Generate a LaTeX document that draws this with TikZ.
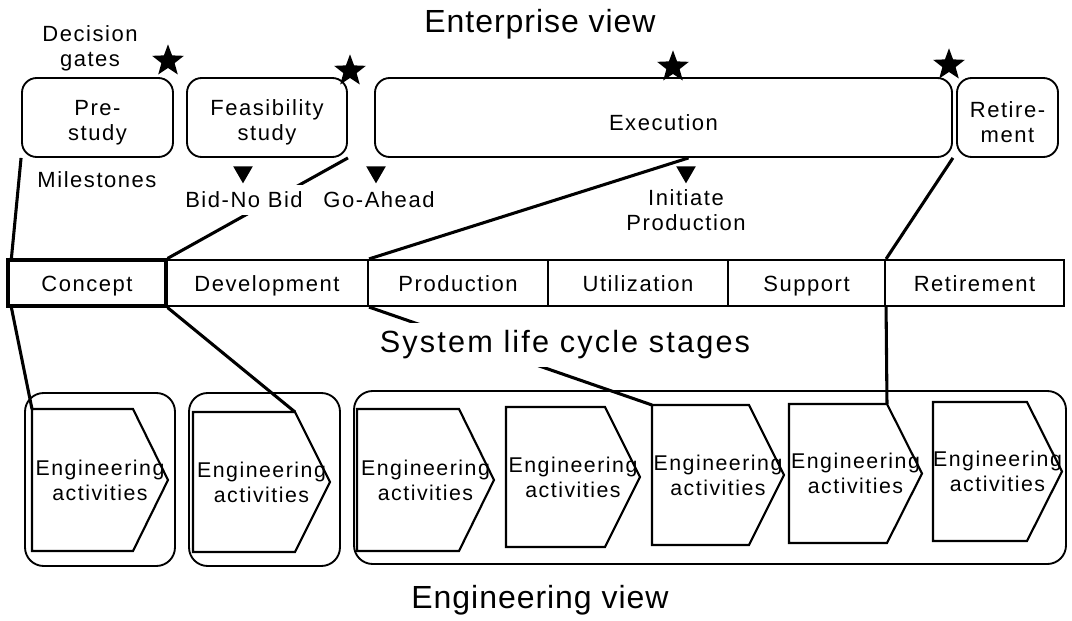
\documentclass[tikz,border=0pt]{standalone}
\usepackage{fontspec}
\setmainfont{Liberation Sans}
\newfontfamily\lsfont[LetterSpace=7]{Liberation Sans}
\newfontfamily\ttlfont[LetterSpace=3]{Liberation Sans}
\usetikzlibrary{shapes.geometric,calc}
\newcommand{\pent}[5]{%
  \draw[pentline] (#2,#4) -- ({#3-35},#4) -- (#3,{(#4+#5)/2}) -- ({#3-35},#5) -- (#2,#5) -- cycle;
  \coordinate (#1tl) at (#2,#4);
  \coordinate (#1tr) at ({#3-35},#4);
  \node[engtxt] (#1) at ({(#2+#3)/2},{(#4+#5)/2}) {Engineering\\activities};
}
\begin{document}
\begin{tikzpicture}[x=0.75pt,y=-0.75pt,
  lbl/.style={font=\lsfont\fontsize{16.5}{18.75}\selectfont, align=center, inner sep=1pt},
  engtxt/.style={font=\lsfont\fontsize{16}{18.75}\selectfont, align=center, inner sep=1pt},
  bigttl/.style={font=\ttlfont\fontsize{24}{28}\selectfont, inner sep=1pt},
  topbox/.style={draw, line width=1.4pt, rounded corners=11pt, minimum height=59.25pt},
  cell/.style={draw, line width=1.6pt, minimum height=34.5pt, lbl, inner sep=0pt, text height=14pt, text depth=1pt},
  grp/.style={draw, line width=1.4pt, rounded corners=14pt},
  pentline/.style={draw, line width=1.6pt, line join=miter},
  conn/.style={line width=2.3pt},
  gate/.style={star, star points=5, star point ratio=2.4, fill=black, inner sep=0pt, minimum size=25pt},
  mile/.style={regular polygon, regular polygon sides=3, shape border rotate=180, fill=black, inner sep=0pt, minimum size=17pt},
]
\useasboundingbox (0,0) rectangle (1072,621);

% titles
\node[bigttl] (ent) at (540,24) {Enterprise view};
\node[bigttl] (engv) at (540,600) {Engineering view};
\node[lbl] (dg) at (90,48) {Decision\\gates};

% top boxes
\node[topbox, minimum width=113.25pt] (pre) at (97.5,117.5) {};
\node[topbox, minimum width=120pt] (feas) at (267,117.5) {};
\node[topbox, minimum width=432.75pt] (exec) at (663.5,117.5) {};
\node[topbox, minimum width=75.75pt] (ret) at (1007.5,117.5) {};
\node[lbl] (preT) at ($(pre.center)+(0,5)$) {Pre-\\study};
\node[lbl] (feasT) at ($(feas.center)+(0,5)$) {Feasibility\\study};
\node[lbl] (execT) at ($(exec.center)+(0,5)$) {Execution};
\node[lbl] (retT) at ($(ret.center)+(0,5)$) {Retire-\\ment};

% stars
\node[gate] (s1) at (168,61) {};
\node[gate] (s2) at (350,71) {};
\node[gate] (s3) at (673,67) {};
\node[gate] (s4) at (949,65) {};

% milestones
\node[lbl] (ms) at (97,180) {Milestones};
\node[mile] (t1) at (243,172) {};
\node[mile] (t2) at (376,172) {};
\node[mile] (t3) at (686,172) {};

% bar cells
\node[cell, minimum width=151.5pt] (dev) at (267,283) {Development};
\node[cell, minimum width=135pt] (prod) at (458,283) {Production};
\node[cell, minimum width=135pt] (util) at (638,283) {Utilization};
\node[cell, minimum width=117.75pt] (supp) at (806.5,283) {Support};
\node[cell, minimum width=134.25pt] (retire) at (974.5,283) {Retirement};
\node[cell, minimum width=118.5pt, line width=2.4pt] (conc) at (87,283) {Concept};

% groups
\draw[grp] (25,393) rectangle (175,566);
\draw[grp] (189,393) rectangle (340,566);
\draw[grp] (354,391) rectangle (1066,564);

% pentagons
\pent{p1}{32}{168}{409}{551}
\pent{p2}{193}{330}{412}{552}
\pent{p3}{357}{494}{409}{551}
\pent{p4}{506}{640}{407}{547}
\pent{p5}{652}{784}{405}{545}
\pent{p6}{789}{922}{404}{543}
\pent{p7}{933}{1062}{402}{541}

% connectors
\coordinate (c1a) at ($(conc.north west)+(5,0)$);
\coordinate (c1b) at ($(conc.south west)+(5,0)$);
\draw[conn] (pre.south west) -- (c1a);
\draw[conn] (c1b) -- (p1tl);
\draw[conn] (feas.south east) -- (conc.north east);
\draw[conn] (conc.south east) -- (p2tr);
\coordinate (ex1) at ($(exec.south)+(25,0)$);
\draw[conn] (ex1) -- (dev.north east);
\draw[conn] (dev.south east) -- (p5tl);
\draw[conn] (exec.south east) -- (supp.north east);
\draw[conn] (supp.south east) -- (p6tr);

% labels over connectors
\node[lbl, fill=white, inner ysep=5pt] (bid) at (244,200) {Bid-No Bid};
\node[lbl] (go) at (379,200) {Go-Ahead};
\node[lbl] (ip) at (686,210) {Initiate\\Production};
\node[lbl, fill=white, font=\lsfont\fontsize{23}{26}\selectfont, inner xsep=2pt, inner ysep=6pt] (slc) at (565,345) {System life cycle stages};
\end{tikzpicture}
\end{document}
